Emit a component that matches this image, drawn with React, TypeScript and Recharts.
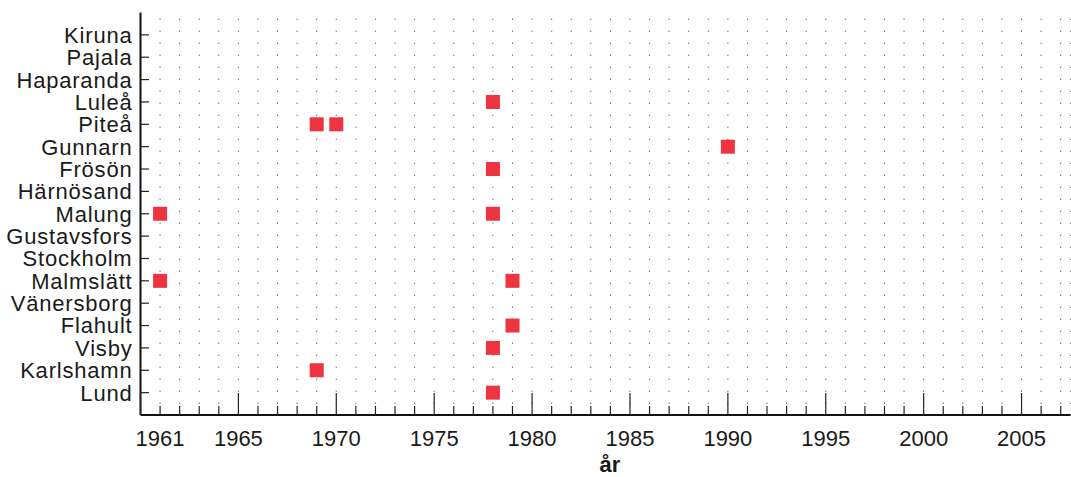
import React from "react";
import {
  ScatterChart,
  Scatter,
  XAxis,
  YAxis,
  CartesianGrid,
} from "recharts";

const stations = [
  "Kiruna",
  "Pajala",
  "Haparanda",
  "Luleå",
  "Piteå",
  "Gunnarn",
  "Frösön",
  "Härnösand",
  "Malung",
  "Gustavsfors",
  "Stockholm",
  "Malmslätt",
  "Vänersborg",
  "Flahult",
  "Visby",
  "Karlshamn",
  "Lund",
];

const eventStations = [
  "Luleå",
  "Piteå",
  "Piteå",
  "Gunnarn",
  "Frösön",
  "Malung",
  "Malung",
  "Malmslätt",
  "Malmslätt",
  "Flahult",
  "Visby",
  "Karlshamn",
  "Lund",
];

const eventYears = [1978, 1969, 1970, 1990, 1978, 1961, 1978, 1961, 1979, 1979, 1978, 1969, 1978];

const yearTicks: number[] = [];
for (let y = 1960; y <= 2007; y++) yearTicks.push(y);

const yearLabels = [1961, 1965, 1970, 1975, 1980, 1985, 1990, 1995, 2000, 2005];

const stationTicks = stations.map((_, i) => stations.length - i);

const points = eventStations.map((s, i) => ({
  year: eventYears[i],
  v: stations.length - stations.indexOf(s),
}));

const FONT = "'Liberation Sans', Arial, Helvetica, sans-serif";
const TXT = "#1a1a1a";
const RED = "#EE3440";

const BottomTick = (props: any) => {
  const { x, y, payload } = props;
  const yr = payload.value;
  const len = yr % 5 === 0 ? 22 : 9;
  return (
    <g>
      <line x1={x} y1={y} x2={x} y2={y - len} stroke="#222" strokeWidth={1.2} />
      {yearLabels.includes(yr) && (
        <text x={x} y={y + 31} textAnchor="middle" fontSize={22} fontFamily={FONT} fill={TXT}>
          {yr}
        </text>
      )}
    </g>
  );
};

const TopTick = (props: any) => {
  const { x, y, payload } = props;
  const yr = payload.value;
  const len = yr % 5 === 0 ? 21 : 8.5;
  return <line x1={x} y1={y} x2={x} y2={y + len} stroke="#222" strokeWidth={1.2} />;
};

const LeftTick = (props: any) => {
  const { x, y, payload } = props;
  const name = stations[stations.length - payload.value];
  return (
    <g>
      <line x1={x} y1={y} x2={x + 8.5} y2={y} stroke="#222" strokeWidth={1.2} />
      <text
        x={x - 8}
        y={y}
        dy="0.36em"
        textAnchor="end"
        fontSize={22}
        letterSpacing={0.8}
        fontFamily={FONT}
        fill={TXT}
      >
        {name}
      </text>
    </g>
  );
};

const RightTick = (props: any) => {
  const { x, y } = props;
  return <line x1={x} y1={y} x2={x - 2} y2={y} stroke="#999" strokeWidth={1} />;
};

const Square = (props: any) => {
  const { cx, cy } = props;
  return <rect x={cx - 7} y={cy - 7} width={14} height={14} fill={RED} />;
};

const W = 1071;
const H = 477;

export default function App() {
  return (
    <div
      style={{
        position: "absolute",
        left: 0,
        top: 0,
        width: W,
        height: H,
        overflow: "hidden",
        background: "#fff",
      }}
    >
      <ScatterChart
        width={W}
        height={H}
        margin={{ top: 12.5, right: 0.5, bottom: 0, left: 0 }}
      >
        <CartesianGrid
          horizontal={false}
          vertical={true}
          stroke="#333"
          strokeWidth={1}
          strokeDasharray="1 11"
          strokeDashoffset={5.8}
        />
        <XAxis
          type="number"
          dataKey="year"
          domain={[1960, 2007.5]}
          ticks={yearTicks}
          interval={0}
          height={62}
          tickSize={0}
          tickMargin={0}
          tickLine={false}
          axisLine={{ stroke: "#111", strokeWidth: 2 }}
          tick={<BottomTick />}
          allowDataOverflow
        />
        <XAxis
          xAxisId="top"
          orientation="top"
          type="number"
          domain={[1960, 2007.5]}
          ticks={yearTicks}
          interval={0}
          height={0}
          tickSize={0}
          tickMargin={0}
          tickLine={false}
          axisLine={{ stroke: "#111", strokeWidth: 2 }}
          tick={<TopTick />}
          allowDataOverflow
        />
        <YAxis
          type="number"
          dataKey="v"
          domain={[0, 18]}
          ticks={stationTicks}
          interval={0}
          width={140.5}
          tickSize={0}
          tickMargin={0}
          tickLine={false}
          axisLine={{ stroke: "#111", strokeWidth: 2 }}
          tick={<LeftTick />}
          allowDataOverflow
        />
        <YAxis
          yAxisId="right"
          orientation="right"
          type="number"
          domain={[0, 18]}
          ticks={stationTicks}
          interval={0}
          width={0}
          tickSize={0}
          tickMargin={0}
          tickLine={false}
          axisLine={false}
          tick={<RightTick />}
          allowDataOverflow
        />
        <Scatter data={points} shape={<Square />} isAnimationActive={false} />
        <text
          x={610}
          y={472}
          textAnchor="middle"
          fontSize={22}
          fontWeight="bold"
          fontFamily={FONT}
          fill={TXT}
        >
          år
        </text>
      </ScatterChart>
    </div>
  );
}
